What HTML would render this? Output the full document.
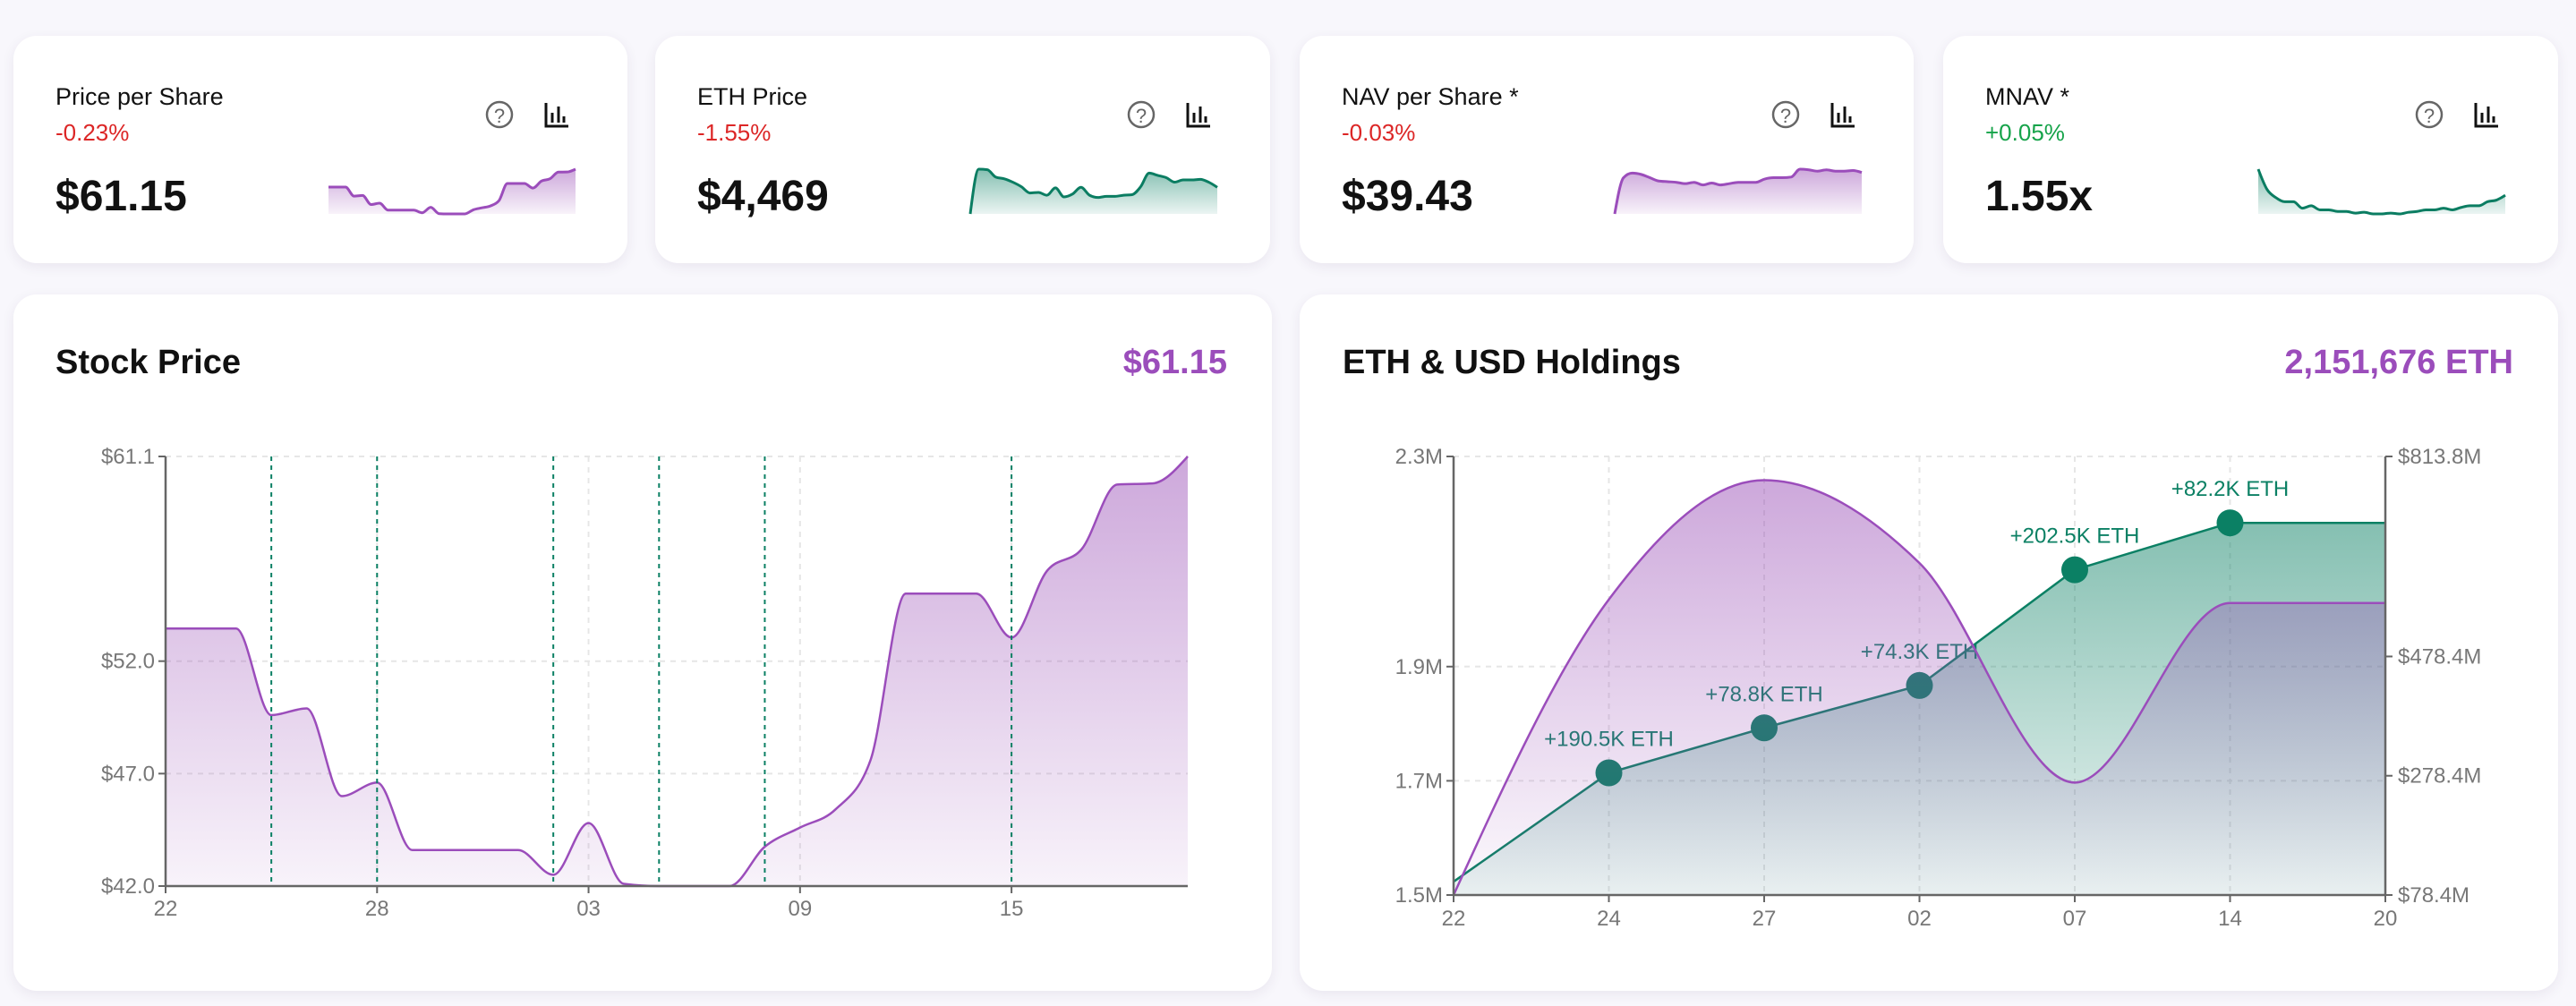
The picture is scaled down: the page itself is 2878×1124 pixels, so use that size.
<!DOCTYPE html>
<html><head><meta charset="utf-8">
<style>
html,body{margin:0;padding:0;}
body{width:2878px;height:1124px;background:#f8f7fc;position:relative;overflow:hidden;font-family:"Liberation Sans",sans-serif;}
.card{position:absolute;background:#fff;border-radius:26px;box-shadow:0 4px 14px rgba(60,40,90,0.08);}
svg{position:absolute;left:0;top:0;}
</style></head>
<body>
<div class="card" style="left:15px;top:40px;width:686px;height:254px"></div>
<div class="card" style="left:732px;top:40px;width:687px;height:254px"></div>
<div class="card" style="left:1452px;top:40px;width:686px;height:254px"></div>
<div class="card" style="left:2171px;top:40px;width:687px;height:254px"></div>
<div class="card" style="left:15px;top:329px;width:1406px;height:778px"></div>
<div class="card" style="left:1452px;top:329px;width:1406px;height:778px"></div>
<svg id="main" width="2878" height="1124" xmlns="http://www.w3.org/2000/svg">
<defs>
<linearGradient id="gp" x1="0" y1="0" x2="0" y2="1"><stop offset="0" stop-color="#9b51b7" stop-opacity="0.5"/><stop offset="1" stop-color="#9b51b7" stop-opacity="0.07"/></linearGradient>
<linearGradient id="gg" x1="0" y1="0" x2="0" y2="1"><stop offset="0" stop-color="#0b8064" stop-opacity="0.5"/><stop offset="1" stop-color="#0b8064" stop-opacity="0.08"/></linearGradient>
<linearGradient id="gph" x1="0" y1="0" x2="0" y2="1"><stop offset="0" stop-color="#9b51b7" stop-opacity="0.5"/><stop offset="1" stop-color="#9b51b7" stop-opacity="0.03"/></linearGradient>
</defs>
</svg>
<script>
const NS="http://www.w3.org/2000/svg";
const svg=document.getElementById('main');
// ---- data ----
const cardTitles=["Price per Share","ETH Price","NAV per Share *","MNAV *"];
const cardChanges=["-0.23%","-1.55%","-0.03%","+0.05%"];
const cardValues=["$61.15","$4,469","$39.43","1.55x"];
const stockDays=["22","28","03","09","15"];
const stockPrices=[53.45,53.45,53.45,49.6,49.9,46.0,46.6,43.6,43.6,43.6,43.6,42.5,44.8,42.1,42.0,42.0,42.0,43.75,44.6,45.4,47.6,55.0,55.0,55.0,53.05,56.0,57.0,59.85,59.9,61.1];
const stockYTicks=[42.0,47.0,52.0,61.1];
const purchaseDays=[3,6,11,14,17,24];
const ethSpark=[4000,4790,4780,4650,4620,4560,4480,4370,4380,4330,4460,4300,4350,4470,4330,4290,4310,4310,4330,4340,4480,4720,4680,4640,4560,4600,4600,4610,4560,4469];
const navSpark=[33,38.5,39.2,39.0,38.5,38.0,37.9,37.8,37.6,37.8,37.4,37.7,37.4,37.6,37.8,37.8,37.8,38.3,38.5,38.5,38.6,39.8,39.7,39.5,39.7,39.5,39.5,39.6,39.3];
const mnavSpark=[2.1,1.85,1.75,1.7,1.7,1.62,1.65,1.6,1.6,1.58,1.58,1.56,1.57,1.55,1.55,1.56,1.55,1.57,1.58,1.6,1.6,1.62,1.6,1.63,1.65,1.65,1.7,1.72,1.78];
const holdDates=["22","24","27","02","07","14","20"];
const ethHoldings=[1.5234,1.7139,1.7927,1.8670,2.0695,2.1517,2.1517];
const usdHoldings=[78.4,574,774,635,267,568,568];
const ethLabels=["","+190.5K ETH","+78.8K ETH","+74.3K ETH","+202.5K ETH","+82.2K ETH",""];
const leftTicks=[1.5,1.7,1.9,2.268];
const rightTicks=[78.4,278.4,478.4,813.8];

function el(tag,attrs,parent){const e=document.createElementNS(NS,tag);for(const k in attrs)e.setAttribute(k,attrs[k]);(parent||svg).appendChild(e);return e;}
function txt(x,y,s,size,fill,anchor,weight,name){const t=el('text',{x:x,y:y,'font-size':size,fill:fill,'text-anchor':anchor||'start','font-weight':weight||400,'font-family':'Liberation Sans, sans-serif'});t.textContent=s;


return t;}
function mono(p){const n=p.length;if(n<2)return '';const h=[],s=[];for(let i=0;i<n-1;i++){h.push(p[i+1][0]-p[i][0]);s.push((p[i+1][1]-p[i][1])/h[i]);}
const m=new Array(n);for(let i=1;i<n-1;i++){const s0=s[i-1],s1=s[i];const pp=(s0*h[i]+s1*h[i-1])/(h[i-1]+h[i]);m[i]=(Math.sign(s0)+Math.sign(s1))*Math.min(Math.abs(s0),Math.abs(s1),0.5*Math.abs(pp))||0;}
m[0]=n>2?(3*s[0]-m[1])/2:s[0];m[n-1]=n>2?(3*s[n-2]-m[n-2])/2:s[0];
if(n>2){if(Math.sign(m[0])!==Math.sign(s[0]))m[0]=0;if(Math.sign(m[n-1])!==Math.sign(s[n-2]))m[n-1]=0;}
let d='M'+p[0][0]+','+p[0][1];for(let i=0;i<n-1;i++){const hh=h[i]/3;d+=' C'+(p[i][0]+hh)+','+(p[i][1]+m[i]*hh)+' '+(p[i+1][0]-hh)+','+(p[i+1][1]-m[i+1]*hh)+' '+p[i+1][0]+','+p[i+1][1];}return d;}

// ---- KPI cards ----
const cardX=[15,732,1452,2171];
const sparkData=[stockPrices,ethSpark,navSpark,mnavSpark];
const sparkPurple=[true,false,true,false];
for(let c=0;c<4;c++){const x=cardX[c];
 txt(x+47,117,cardTitles[c],27,'#111','start',400,'card-title');
 txt(x+47,157,cardChanges[c],26,cardChanges[c][0]==='-'?'#dc2626':'#16a34a','start',400,'card-change');
 txt(x+47,235,cardValues[c],48,'#111','start',700,'card-value');
 const q=el('g',{});
 
 
 el('circle',{cx:x+543,cy:128,r:14,fill:'none',stroke:'#666','stroke-width':2.5},q);
 const qt=el('text',{x:x+543,y:137,'font-size':22,fill:'#666','text-anchor':'middle','font-family':'Liberation Sans, sans-serif'},q);qt.textContent='?';
 const b=el('g',{stroke:'#111','stroke-width':3,fill:'none'});
 
 
 el('path',{d:`M${x+595},115 V141 H${x+620} M${x+602},126 V137 M${x+609},119 V137 M${x+615},130 V137`},b);
 const vals=sparkData[c];const sx0=x+352,sx1=x+628,sy0=189,sy1=239;
 const mn=Math.min(...vals),mx=Math.max(...vals);
 const pts=vals.map((v,i)=>[sx0+(sx1-sx0)*i/(vals.length-1),sy1-(v-mn)/(mx-mn)*(sy1-sy0)]);
 const d=mono(pts);
 const col=sparkPurple[c]?'#9b4dbb':'#0b7d62';
 const a=el('path',{d:d+` L${sx1},${sy1} L${sx0},${sy1} Z`,fill:sparkPurple[c]?'url(#gp)':'url(#gg)'});
 
 
 const l=el('path',{d:d,fill:'none',stroke:col,'stroke-width':3});
 
 
}

// ---- Stock price chart ----
txt(62,417,'Stock Price',38,'#111','start',700,'stock-chart-title');
txt(1371,417,'$61.15',38,'#9b4dbb','end',700,'stock-current-price');
const SX0=185,SX1=1327,SY0=510,SY1=990,SMIN=42.0,SMAX=61.1,NDAYS=stockPrices.length-1;
const sx=i=>SX0+(SX1-SX0)*i/NDAYS;const sy=v=>SY1-(v-SMIN)/(SMAX-SMIN)*(SY1-SY0);
stockYTicks.forEach(v=>{const g=el('line',{x1:SX0,x2:SX1,y1:sy(v),y2:sy(v),stroke:'#e6e6e6','stroke-dasharray':'6 6','stroke-width':2});
 
 el('line',{x1:SX0-8,x2:SX0,y1:sy(v),y2:sy(v),stroke:'#666','stroke-width':2});
 txt(SX0-12,sy(v)+8,'$'+v.toFixed(1),24,'#777','end',400,'y-tick-label');});
stockDays.forEach((d,k)=>{const x=sx(k*6);
 const g=el('line',{x1:x,x2:x,y1:SY0,y2:SY1,stroke:'#e6e6e6','stroke-dasharray':'6 6','stroke-width':2});
 
 el('line',{x1:x,x2:x,y1:SY1,y2:SY1+8,stroke:'#666','stroke-width':2});
 txt(x,SY1+33,d,24,'#777','middle',400,'x-tick-label');});
const spts=stockPrices.map((v,i)=>[sx(i),sy(v)]);
const sd=mono(spts);
const sa=el('path',{d:sd+` L${SX1},${SY1} L${SX0},${SY1} Z`,fill:'url(#gp)'});

const sl=el('path',{d:sd,fill:'none',stroke:'#9b4dbb','stroke-width':2.5});

purchaseDays.forEach(dy=>{const l=el('line',{x1:sx(dy),x2:sx(dy),y1:SY0,y2:SY1,stroke:'#0b8064','stroke-dasharray':'5 5','stroke-width':2});
 });
el('line',{x1:SX0,x2:SX0,y1:SY0,y2:SY1,stroke:'#666','stroke-width':2.5});
el('line',{x1:SX0,x2:SX1,y1:SY1,y2:SY1,stroke:'#666','stroke-width':2.5});

// ---- Holdings chart ----
txt(1500,417,'ETH & USD Holdings',38,'#111','start',700,'holdings-chart-title');
txt(2808,417,'2,151,676 ETH',38,'#9b4dbb','end',700,'holdings-total');
const HX0=1624,HX1=2665,HY0=510,HY1=1000;
const LMIN=leftTicks[0],LMAX=leftTicks[leftTicks.length-1],RMIN=rightTicks[0],RMAX=rightTicks[rightTicks.length-1];
const hx=i=>HX0+(HX1-HX0)*i/(holdDates.length-1);
const hyl=v=>HY1-(v-LMIN)/(LMAX-LMIN)*(HY1-HY0);
const hyr=v=>HY1-(v-RMIN)/(RMAX-RMIN)*(HY1-HY0);
leftTicks.forEach(v=>{const g=el('line',{x1:HX0,x2:HX1,y1:hyl(v),y2:hyl(v),stroke:'#e6e6e6','stroke-dasharray':'6 6','stroke-width':2});
 
 el('line',{x1:HX0-8,x2:HX0,y1:hyl(v),y2:hyl(v),stroke:'#666','stroke-width':2});
 txt(HX0-12,hyl(v)+8,v.toFixed(1)+'M',24,'#777','end',400,'left-y-tick-label');});
rightTicks.forEach(v=>{el('line',{x1:HX1,x2:HX1+8,y1:hyr(v),y2:hyr(v),stroke:'#666','stroke-width':2});
 txt(HX1+14,hyr(v)+8,'$'+v.toFixed(1)+'M',24,'#777','start',400,'right-y-tick-label');});
holdDates.forEach((d,i)=>{const x=hx(i);
 const g=el('line',{x1:x,x2:x,y1:HY0,y2:HY1,stroke:'#e6e6e6','stroke-dasharray':'6 6','stroke-width':2});
 
 el('line',{x1:x,x2:x,y1:HY1,y2:HY1+8,stroke:'#666','stroke-width':2});
 txt(x,HY1+34,d,24,'#777','middle',400,'x-tick-label');});
const ep=ethHoldings.map((v,i)=>[hx(i),hyl(v)]);
const ed='M'+ep.map(p=>p[0]+','+p[1]).join(' L');
const ea=el('path',{d:ed+` L${HX1},${HY1} L${HX0},${HY1} Z`,fill:'url(#gg)'});

const elne=el('path',{d:ed,fill:'none',stroke:'#0b8064','stroke-width':2.5});

ep.forEach((p,i)=>{if(!ethLabels[i])return;
 const c=el('circle',{cx:p[0],cy:p[1],r:15,fill:'#0b8064'});
 
 txt(p[0],p[1]-30,ethLabels[i],24,'#0b8064','middle',400,'eth-purchase-label');});
const up=usdHoldings.map((v,i)=>[hx(i),hyr(v)]);
const ud=mono(up);
const ua=el('path',{d:ud+` L${HX1},${HY1} L${HX0},${HY1} Z`,fill:'url(#gph)'});

const ul=el('path',{d:ud,fill:'none',stroke:'#9b4dbb','stroke-width':2.5});

el('line',{x1:HX0,x2:HX0,y1:HY0,y2:HY1,stroke:'#666','stroke-width':2.5});
el('line',{x1:HX1,x2:HX1,y1:HY0,y2:HY1,stroke:'#666','stroke-width':2.5});
el('line',{x1:HX0,x2:HX1,y1:HY1,y2:HY1,stroke:'#666','stroke-width':2.5});
</script>
</body></html>
